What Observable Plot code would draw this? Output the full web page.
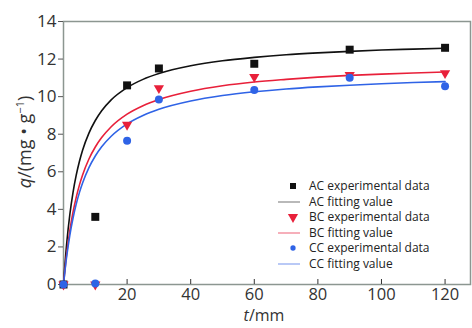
<!DOCTYPE html>
<html><head><meta charset="utf-8">
<script src="https://cdn.jsdelivr.net/npm/d3@7"></script>
<script src="https://cdn.jsdelivr.net/npm/@observablehq/plot@0.6"></script>
<style>
body{margin:0;background:#fff;}
#wrap{position:relative;width:472px;height:328px;font-family:"Open Sans",sans-serif;}
#legend{position:absolute;left:276px;top:178px;font-size:12px;color:#222;line-height:15.6px;}
#legend .row{display:flex;align-items:center;height:15.6px;}
#legend svg{width:28px;height:15.6px;margin-right:5px;}
</style></head>
<body><div id="wrap"><div id="legend"></div></div>
<script>
const xTicks = [20,40,60,80,100,120];
const yTicks = [0,2,4,6,8,10,12,14];
const tExp = [0,10,20,30,60,90,120];
const acExp = [0,3.6,10.6,11.5,11.75,12.5,12.6];
const bcExp = [0,0,8.5,10.45,11.05,11.15,11.25];
const ccExp = [0,0.05,7.65,9.85,10.35,11.0,10.55];
const tFit = [0,1,2,3,4,5,6,8,10,12,15,20,25,30,40,50,60,70,80,90,100,110,120];
const acFit = [0,2.18,3.74,4.91,5.82,6.55,7.15,8.06,8.73,9.25,9.83,10.48,10.92,11.23,11.64,11.91,12.09,12.23,12.33,12.41,12.48,12.53,12.58];
const bcFit = [0,1.64,2.88,3.86,4.64,5.29,5.83,6.68,7.32,7.82,8.4,9.07,9.52,9.85,10.29,10.58,10.78,10.92,11.04,11.13,11.2,11.26,11.31];
const ccFit = [0,1.49,2.63,3.54,4.28,4.89,5.4,6.22,6.84,7.33,7.89,8.55,9.0,9.33,9.77,10.06,10.26,10.41,10.52,10.61,10.69,10.75,10.8];
const series = [
  {name:"AC", exp:acExp, fit:acFit, color:"#111111", legendLine:"#8a8a8a", symbol:"square", r:4.5, rotate:0},
  {name:"BC", exp:bcExp, fit:bcFit, color:"#e8203a", legendLine:"#f07a8c", symbol:"triangle", r:3.8, rotate:180},
  {name:"CC", exp:ccExp, fit:ccFit, color:"#2f63e6", legendLine:"#8aa6f0", symbol:"circle", r:4, rotate:0}
];
const marks = [
  Plot.frame({stroke:"#8c9691", strokeWidth:1.5}),
  Plot.ruleX(xTicks, {x:d=>d, insetTop:258, stroke:"#333"}),
  Plot.axisX({ticks:xTicks, tickSize:0, tickPadding:4, fontSize:16.5, label:null}),
  Plot.axisY({ticks:yTicks, tickSize:5, tickPadding:2, fontSize:17, label:null, stroke:"#555"})
];
for (const s of series) {
  marks.push(Plot.line(tFit.map((t,i)=>({t,q:s.fit[i]})), {x:"t", y:"q", stroke:s.color, strokeWidth:1.6, curve:"monotone-x"}));
}
for (const s of series) {
  marks.push(Plot.dot(tExp.map((t,i)=>({t,q:s.exp[i]})), {x:"t", y:"q", symbol:s.symbol, r:s.r, fill:s.color, rotate:s.rotate}));
}
const chart = Plot.plot({
  width:472, height:328, marginLeft:63, marginRight:2, marginTop:21, marginBottom:44,
  style:{fontFamily:"Open Sans, sans-serif", fontSize:"17px", color:"#333", background:"#fff"},
  x:{domain:[0,128]}, y:{domain:[0,14]},
  marks
});
document.getElementById("wrap").prepend(chart);
const svg = d3.select(chart);
const yl = svg.append("text").attr("transform","translate(31,142) rotate(-90)")
  .attr("text-anchor","middle").attr("font-size",18).attr("fill","#333").attr("font-family","Open Sans, sans-serif");
yl.append("tspan").attr("font-style","italic").text("q");
yl.append("tspan").text("/(mg • g");
yl.append("tspan").attr("font-size",11).attr("dy",-7).text("−1");
yl.append("tspan").attr("dy",7).text(")");
const xl = svg.append("text").attr("x",264).attr("y",321)
  .attr("text-anchor","middle").attr("font-size",16).attr("fill","#333").attr("font-family","Open Sans, sans-serif");
xl.append("tspan").attr("font-style","italic").text("t");
xl.append("tspan").text("/mm");
const leg = d3.select("#legend");
for (const s of series) {
  const r1 = leg.append("div").attr("class","row");
  const sv1 = r1.append("svg");
  const sym = d3.symbol().type(s.symbol==="square"?d3.symbolSquare:s.symbol==="triangle"?d3.symbolTriangle:d3.symbolCircle)
    .size(s.symbol==="square"?36:s.symbol==="triangle"?45:22);
  sv1.append("path").attr("d",sym()).attr("fill",s.color)
    .attr("transform",`translate(17,8) rotate(${s.rotate})`);
  r1.append("span").text(`${s.name} experimental data`);
  const r2 = leg.append("div").attr("class","row");
  const sv2 = r2.append("svg");
  sv2.append("line").attr("x1",2).attr("x2",24).attr("y1",8).attr("y2",8).attr("stroke",s.legendLine).attr("stroke-width",1.2);
  r2.append("span").text(`${s.name} fitting value`);
}
</script></body></html>
